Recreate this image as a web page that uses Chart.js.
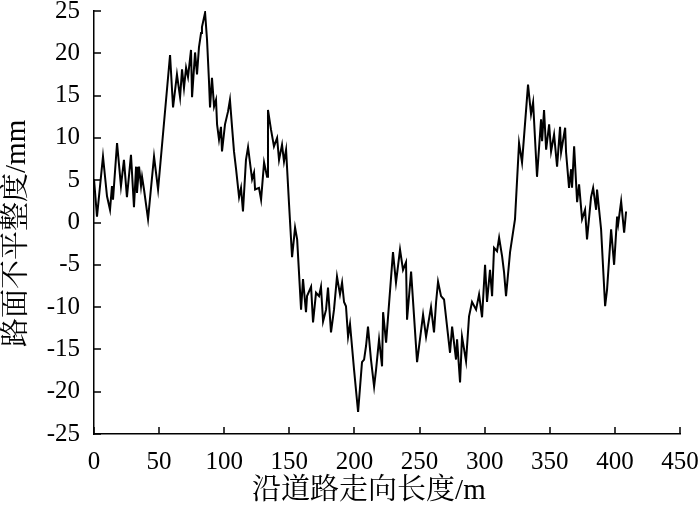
<!DOCTYPE html>
<html><head><meta charset="utf-8">
<script src="https://cdn.jsdelivr.net/npm/chart.js@4.4.1/dist/chart.umd.min.js"></script>
<style>html,body{margin:0;padding:0;background:#fff}#wrap{width:700px;height:510px}</style>
</head><body><div id="wrap"><canvas id="c" width="700" height="510"></canvas></div>
<script>
const distance = [0,2.3,6.9,10.0,12.3,13.8,14.6,17.7,20.7,23.0,
25.3,28.4,30.7,32.3,33.0,34.6,36.1,36.9,38.4,41.5,
46.1,49.2,58.4,60.7,63.7,66.1,67.6,69.1,70.7,72.2,
74.5,75.3,77.6,79.1,80.6,82.2,82.9,85.3,86.8,88.3,
89.1,90.6,92.2,93.7,94.5,96.0,97.5,98.3,100.6,102.9,
104.4,106.0,107.5,109.1,111.4,112.9,114.4,116.7,118.3,121.4,
122.9,123.7,126.7,128.3,130.6,132.9,133.6,135.9,138.2,140.6,
142.1,144.4,145.9,147.5,149.8,152.1,154.4,156.0,159.0,160.5,
162.8,163.6,166.7,168.2,170.5,172.8,174.3,175.9,178.2,179.7,
182.0,184.3,186.6,188.9,190.5,192.0,193.5,195.1,196.6,199.7,
202.8,205.8,207.4,208.9,210.4,212.7,215.1,216.6,218.9,221.2,
222.0,224.3,229.6,231.9,235.0,237.3,239.6,240.4,243.5,248.1,
252.7,255.0,258.8,261.1,262.7,264.2,266.5,268.8,273.4,275.0,
278.0,278.8,281.1,282.6,285.7,288.0,290.3,293.4,295.7,298.0,
300.3,301.8,304.1,305.7,307.2,309.5,311.1,313.4,314.9,316.4,
319.5,323.3,326.4,328.7,333.3,335.6,337.2,340.2,343.3,344.1,
345.6,347.2,349.5,351.0,353.3,355.6,357.9,358.7,361.8,362.5,
364.8,366.4,367.1,368.7,371.0,372.5,374.8,377.1,378.6,381.7,
383.3,385.6,386.3,389.4,392.5,394.0,397.1,399.4,401.7,402.5,
404.8,407.1,408.6];
const roughness = [5.1,0.7,7.8,3.1,1.5,4.3,2.7,9.4,4.3,7.4,
3.0,8.0,1.8,6.6,3.5,6.6,4.3,5.4,3.9,0.4,
7.8,3.9,19.8,13.6,17.5,14.8,18.1,15.9,18.3,17.2,
20.4,14.8,20.1,17.5,20.7,22.4,23.1,24.8,21.6,16.7,
13.6,17.1,13.7,14.5,11.6,9.8,11.3,8.4,11.6,13.1,
14.5,11.3,8.4,6.3,3.0,4.1,1.3,7.4,8.9,5.1,
5.9,3.9,4.1,2.7,7.1,5.4,13.3,11.0,9.0,10.0,
7.4,9.2,7.2,8.6,2.1,-4.1,-0.6,-2.0,-10.3,-6.7,
-10.6,-8.7,-7.6,-11.8,-8.3,-8.7,-7.6,-11.7,-10.3,-7.7,
-13.0,-10.3,-6.4,-8.5,-7.1,-9.4,-9.9,-13.5,-12.0,-17.4,
-22.4,-16.5,-16.2,-14.6,-12.3,-16.2,-19.4,-17.4,-13.8,-17.0,
-10.6,-14.2,-3.5,-7.1,-3.2,-5.6,-4.7,-11.5,-5.8,-16.5,
-10.9,-13.5,-10.0,-13.0,-9.4,-7.0,-8.7,-9.1,-15.4,-12.3,
-16.2,-13.8,-18.9,-13.5,-16.4,-11.1,-9.4,-10.3,-8.5,-11.2,
-5.0,-9.4,-5.6,-8.7,-3.0,-3.4,-1.8,-4.0,-5.9,-8.7,
-3.5,0.4,9.4,7.1,16.3,12.8,14.2,5.4,12.2,9.6,
13.3,8.6,11.6,8.4,10.4,6.6,11.3,8.3,11.2,8.3,
4.1,6.3,4.1,9.0,2.4,4.5,0.4,1.5,-2.0,3.0,
4.1,1.5,3.9,-0.8,-9.9,-7.9,-0.8,-5.0,0.7,-0.2,
2.5,-1.2,1.3];
const xTicks = [0,50,100,150,200,250,300,350,400,450];
const yTicks = [-25,-20,-15,-10,-5,0,5,10,15,20,25];
const xTitle = '沿道路走向长度/m';
const yTitle = '路面不平整度/mm';

const latin = "'Liberation Serif','Times New Roman',serif";
const cjk = "'Liberation Serif','Noto Serif CJK SC','Noto Sans CJK SC',serif";

const innerTicks = {
  id: 'innerTicks',
  afterDraw(chart) {
    const {ctx, chartArea, scales} = chart;
    ctx.save();
    ctx.strokeStyle = '#000';
    ctx.lineWidth = 1.5;
    ctx.beginPath();
    xTicks.forEach(v => {
      const px = Math.round(scales.x.getPixelForValue(v));
      ctx.moveTo(px, chartArea.bottom);
      ctx.lineTo(px, chartArea.bottom - 7);
    });
    yTicks.forEach(v => {
      const py = Math.round(scales.y.getPixelForValue(v));
      ctx.moveTo(chartArea.left, py);
      ctx.lineTo(chartArea.left + 7, py);
    });
    ctx.stroke();
    ctx.restore();
  }
};

new Chart(document.getElementById('c'), {
  type: 'line',
  data: {
    datasets: [{
      data: distance.map((d, i) => ({x: d, y: roughness[i]})),
      borderColor: '#000',
      borderWidth: 2,
      pointRadius: 0,
      tension: 0,
      fill: false
    }]
  },
  options: {
    responsive: false,
    devicePixelRatio: 1,
    animation: false,
    layout: {padding: {top: 11, right: 20, bottom: 0, left: 0}},
    plugins: {legend: {display: false}, tooltip: {enabled: false}},
    scales: {
      x: {
        type: 'linear', min: 0, max: 450,
        afterBuildTicks(s) { s.ticks = xTicks.map(v => ({value: v})); },
        afterFit(s) { s.height = 76; s.paddingLeft = 0; s.paddingRight = 0; },
        grid: {display: true, drawOnChartArea: false, drawTicks: false},
        border: {display: true, color: '#000', width: 1.5},
        ticks: {color: '#000', padding: 13, maxRotation: 0, autoSkip: false,
                font: {family: latin, size: 25}},
        title: {display: true, text: xTitle + '     ', color: '#000',
                font: {family: cjk, size: 29, lineHeight: 1}, padding: {top: 0, bottom: 4}}
      },
      y: {
        type: 'linear', min: -25, max: 25,
        afterBuildTicks(s) { s.ticks = yTicks.map(v => ({value: v})); },
        afterFit(s) { s.width = 94; s.paddingTop = 0; s.paddingBottom = 0; },
        grid: {display: true, drawOnChartArea: false, drawTicks: false},
        border: {display: true, color: '#000', width: 1.5},
        ticks: {color: '#000', padding: 14, autoSkip: false,
                font: {family: latin, size: 25}},
        title: {display: true, text: yTitle + '   ', color: '#000',
                font: {family: cjk, size: 29, lineHeight: 1}, padding: {top: 3, bottom: 0}}
      }
    }
  },
  plugins: [innerTicks]
});
</script>
</body></html>
